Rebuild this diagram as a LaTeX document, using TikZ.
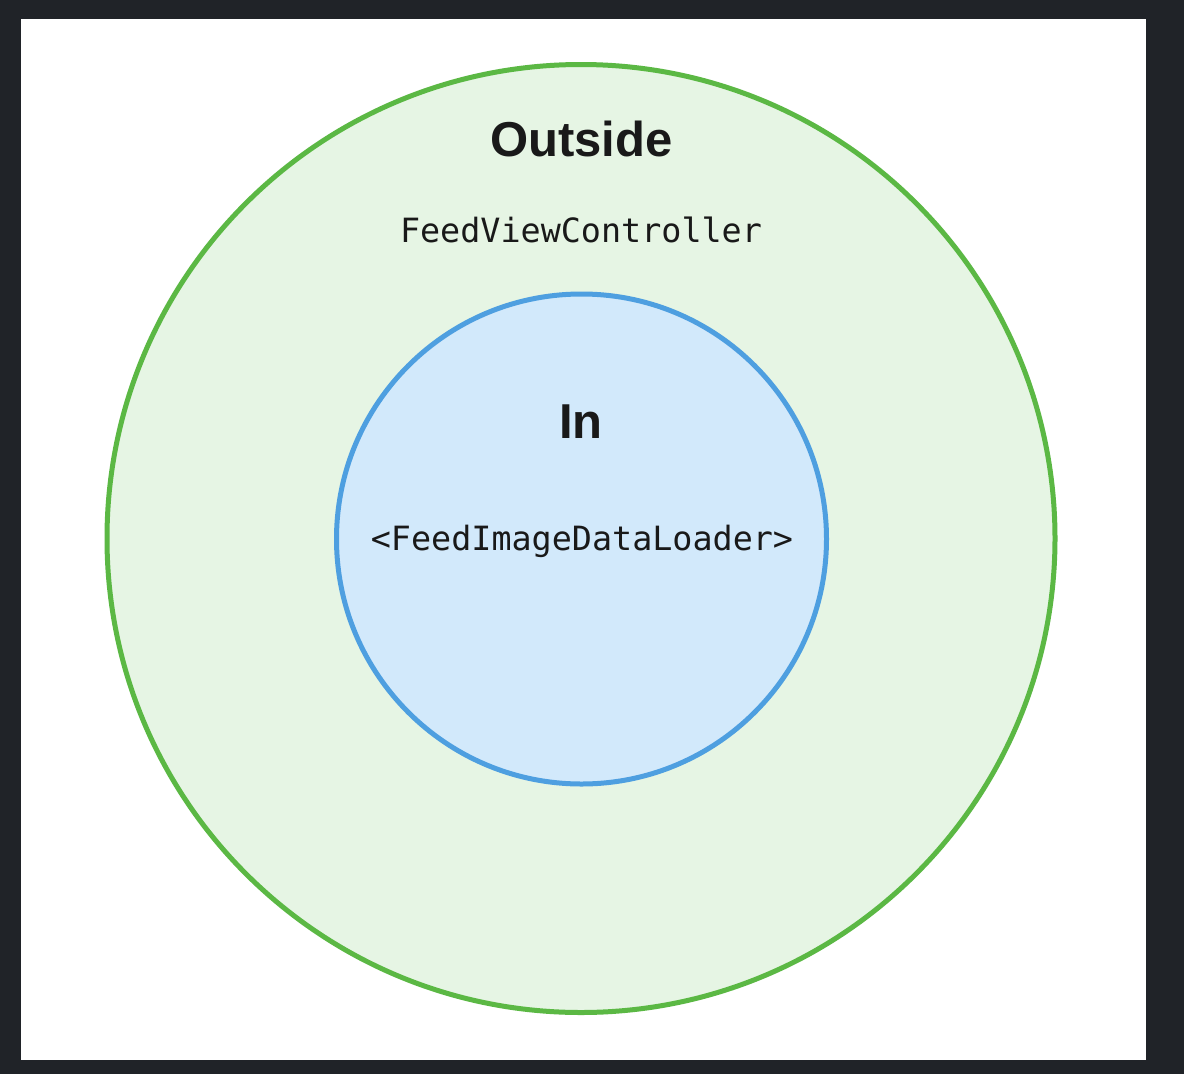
\documentclass[tikz,border=0pt]{standalone}
\usepackage{fontspec}
\setmainfont{Liberation Sans}
\setmonofont{DejaVu Sans Mono}
\usepackage{tikz}

\definecolor{frame}{HTML}{202328}
\definecolor{outerline}{HTML}{5BB844}
\definecolor{outerfill}{HTML}{E6F5E4}
\definecolor{innerline}{HTML}{4E9FE0}
\definecolor{innerfill}{HTML}{D2E9FB}

\begin{document}
\begin{tikzpicture}[x=1pt, y=-1pt,
    ring/.style={circle, draw, line width=5pt, inner sep=0pt},
    title/.style={anchor=base, font=\fontsize{49}{49}\selectfont\bfseries, text=black!90},
    code/.style={anchor=base, font=\fontsize{33.4}{33.4}\selectfont\ttfamily, text=black!90}]
      \fill[frame] (0, 0) rectangle (1184, 1074);
      \fill[white] (21, 19) rectangle (1146, 1060);
      \useasboundingbox (0, 0) rectangle (1184, 1074);
      \node[ring, draw=outerline, fill=outerfill, minimum size=948pt] (outside) at (581, 538.5) {};
      \node[ring, draw=innerline, fill=innerfill, minimum size=490pt] (inside) at (581.5, 539) {};
      \node[title] (outsidelabel) at (581.5, 156) {Outside};
      \node[code] (controller) at (581, 242) {FeedViewController};
      \node[title] (insidelabel) at (581, 438) {In};
      \node[code] (loader) at (582, 550) {<FeedImageDataLoader>};
    \end{tikzpicture}
\end{document}
